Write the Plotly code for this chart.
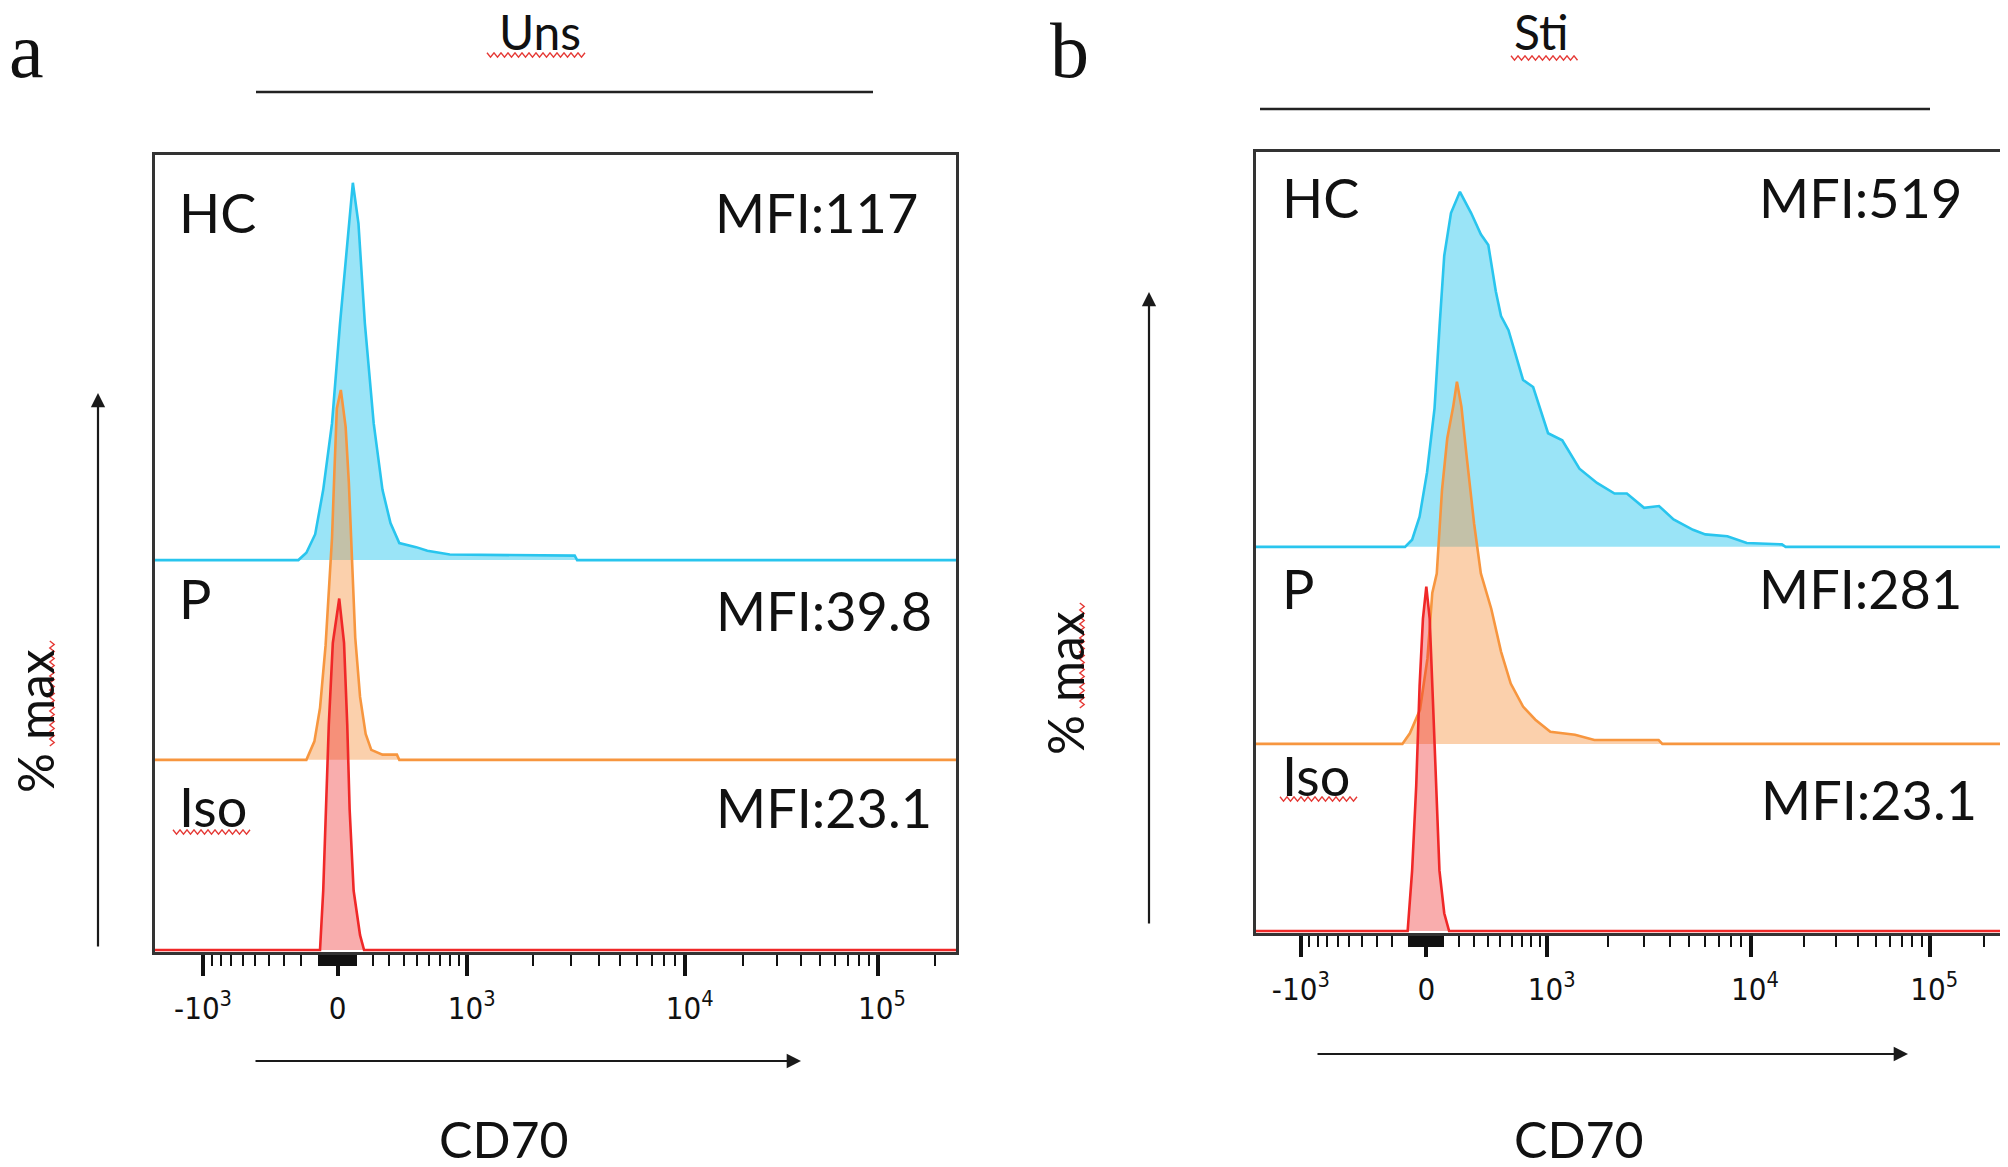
import numpy as np
import plotly.graph_objects as go

# the page body has an 8px margin, so the figure is drawn 8px in from the top-left
PAGE_W, PAGE_H, MARGIN = 2008, 1167, 8
W, H = PAGE_W - MARGIN, PAGE_H - MARGIN

# x = display channel (0-1000 across the plot box), y = % of max
uns_hc_ch = [0, 179, 189, 200, 210, 221, 231, 242, 247, 254, 262, 273, 284, 294, 305, 326, 340, 368, 524, 527, 1000]
uns_hc_pct = [0, 0, 2, 7, 19, 37, 64, 91, 102, 91, 64, 37, 19, 10, 4.6, 3.5, 2.5, 1.5, 1.2, 0, 0]

uns_p_ch = [0, 189, 199, 206, 213, 217, 221, 224, 227, 232, 238, 242, 246, 250, 256, 263, 270, 284, 302, 305, 1000]
uns_p_pct = [0, 0, 5, 14, 31, 45, 60, 78, 95, 100, 90, 75, 52, 33, 17, 7, 2.7, 1.4, 1.4, 0, 0]

uns_iso_ch = [0, 206, 210, 213, 217, 222, 230, 236, 240, 243, 248, 256, 261, 1000]
uns_iso_pct = [0, 0, 16, 38, 61, 83, 95, 83, 61, 38, 16, 4, 0, 0]

sti_hc_ch = [0, 199.5, 209, 219, 229, 239, 246, 252, 261, 273, 288, 301, 311, 321, 328, 338, 357.5, 371,
             391, 410, 433, 456.5, 480, 496.5, 519.5, 539.5, 559, 585, 601.5, 631, 657, 704, 709, 1000]
sti_hc_pct = [0, 0, 2, 8.5, 21, 39, 63, 82, 94, 100, 94, 88, 85, 72, 65, 61, 47, 45,
              32, 30, 22, 18, 15, 15, 11, 11.5, 7.7, 4.8, 3.5, 3, 1.1, 0.7, 0, 0]

sti_p_ch = [0, 196, 206, 219.5, 229.5, 236, 242, 249, 256, 264, 269, 275, 282, 292, 301, 315, 328, 341,
            357.5, 374, 394, 427, 453, 539, 544, 1000]
sti_p_pct = [0, 0, 3, 9.6, 24, 42.5, 48, 71.5, 86, 95, 102, 95, 81, 62, 48, 38, 26, 17,
             10.5, 6.8, 3.4, 2.6, 1.1, 1.1, 0, 0]

sti_iso_ch = [0, 203, 209, 214.5, 219, 223.5, 228, 232.5, 237, 241, 245.6, 252, 258.5, 1000]
sti_iso_pct = [0, 0, 17, 41, 69, 88, 97, 88, 64, 41, 17, 5, 0, 0]

groups = ["HC", "P", "Iso"]
uns_mfi = ["MFI:117", "MFI:39.8", "MFI:23.1"]
sti_mfi = ["MFI:519", "MFI:281", "MFI:23.1"]

major_vals = [-1000, 0, 1000, 10000, 100000]
major_text = ["-10<sup>3</sup>", "0", "&nbsp;10<sup>3</sup>", "&nbsp;10<sup>4</sup>", "&nbsp;10<sup>5</sup>"]


def to_channel(v):
    # biexponential-ish display scale used by the cytometry software
    c = 490.0
    if v >= 1000:
        if v <= 10000:
            return 390 + 272 * np.log10(v / 1000)
        return 662 + 240 * np.log10(v / 10000)
    if v >= 0:
        return 228 + 162 * np.arcsinh(v / c) / np.arcsinh(1000 / c)
    return 228 - 168 * np.arcsinh(-v / c) / np.arcsinh(1000 / c)


minor_vals = ([-m * 100 for m in range(1, 10)] + [-m * 10 for m in range(1, 10)]
              + [m * 10 for m in range(1, 10)] + [m * 100 for m in range(1, 10)]
              + [m * 1000 for m in range(2, 10)] + [m * 10000 for m in range(2, 10)] + [200000])

CYAN = "#29C5EE"
ORANGE = "#F7963F"
RED = "#F02828"
fills = {"HC": "rgba(41,197,238,0.47)", "P": "rgba(247,150,70,0.45)", "Iso": "rgba(240,40,40,0.38)"}
lines = {"HC": CYAN, "P": ORANGE, "Iso": RED}


def px(x, y):
    # page pixel -> paper fraction
    return (x - MARGIN) / W, 1 - (y - MARGIN) / H


fig = go.Figure()

panels = [
    # axis suffix, data, baseline offsets, y range
    ("", {"HC": (uns_hc_ch, uns_hc_pct), "P": (uns_p_ch, uns_p_pct), "Iso": (uns_iso_ch, uns_iso_pct)},
     {"HC": 105.4, "P": 51.4, "Iso": 0}, [-0.54, 214.9]),
    ("2", {"HC": (sti_hc_ch, sti_hc_pct), "P": (sti_p_ch, sti_p_pct), "Iso": (sti_iso_ch, sti_iso_pct)},
     {"HC": 108.2, "P": 52.7, "Iso": 0}, [-0.56, 219.4]),
]

for suffix, data, offs, yr in panels:
    for g in groups:
        xs, ys = data[g]
        fig.add_trace(go.Scatter(
            x=xs, y=[offs[g] + v for v in ys], mode="lines", fill="toself",
            fillcolor=fills[g], line=dict(color=lines[g], width=2.6),
            xaxis="x" + suffix, yaxis="y" + suffix, hoverinfo="skip", showlegend=False))

xa = dict(range=[0, 1000], showgrid=False, zeroline=False, showline=True, mirror=True,
          linecolor="#333", linewidth=2.5, ticks="outside", ticklen=21, tickwidth=4, tickcolor="#111",
          tickmode="array", tickvals=[to_channel(v) for v in major_vals], ticktext=major_text,
          tickfont=dict(family="Liberation Sans Narrow, DejaVu Sans Condensed, Liberation Sans", size=31, color="#111"),
          ticklabelstandoff=6,
          minor=dict(tickmode="array", tickvals=[to_channel(v) for v in minor_vals], ticks="outside",
                     ticklen=11, tickwidth=2, tickcolor="#111"))
ya = dict(showgrid=False, zeroline=False, showline=True, mirror=True, linecolor="#333", linewidth=2.5,
          showticklabels=False, ticks="")

ax0, ay1 = px(155, 155)
ax1, ay0 = px(956, 952)
bx0, by1 = px(1256, 152)
bx1, by0 = px(2003, 933)

fig.update_layout(
    width=W, height=H, margin=dict(l=0, r=0, t=0, b=0),
    paper_bgcolor="white", plot_bgcolor="white", showlegend=False,
    xaxis=dict(xa, domain=[ax0, ax1], anchor="y"),
    yaxis=dict(ya, domain=[ay0, ay1], range=panels[0][3], anchor="x"),
    xaxis2=dict(xa, domain=[bx0, bx1], anchor="y2"),
    yaxis2=dict(ya, domain=[by0, by1], range=panels[1][3], anchor="x2"),
)

TXT = "Lato, Open Sans, sans-serif"
ann = []


def text(x, y, s, size=54, xanchor="left", angle=0, family=TXT):
    xx, yy = px(x, y)
    ann.append(dict(x=xx, y=yy, xref="paper", yref="paper", text=s, showarrow=False,
                    xanchor=xanchor, yanchor="middle", textangle=angle,
                    font=dict(family=family, size=size, color="#111")))


# panel letters and titles
text(26, 50, "a", size=78, xanchor="center", family="Liberation Serif, serif")
text(1069, 50, "b", size=78, xanchor="center", family="Liberation Serif, serif")
text(540, 32, "Uns", size=48, xanchor="center")
text(1541, 32, "Sti", size=48, xanchor="center")
text(503, 1139, "CD70", size=50, xanchor="center")
text(1578, 1139, "CD70", size=50, xanchor="center")
text(35, 721, "% max", size=50, xanchor="center", angle=-90)
text(1065, 683, "% max", size=50, xanchor="center", angle=-90)

# group labels and MFI values
for g, y in zip(groups, [213, 598, 806]):
    text(177, y, g, size=54)
for m, y in zip(uns_mfi, [213, 610, 807]):
    text(934 if m != "MFI:117" else 920, y, m, size=54, xanchor="right")
for g, y in zip(groups, [198, 588, 775]):
    text(1280, y, g, size=54)
for m, y in zip(sti_mfi, [198, 588, 799]):
    text(1979 if m == "MFI:23.1" else 1964, y, m, size=54, xanchor="right")

# axis arrows
for tip, d in [((98, 393), (0, 555)), ((801, 1061), (-547, 0)),
               ((1149, 292), (0, 633)), ((1908, 1054), (-592, 0))]:
    xx, yy = px(*tip)
    ann.append(dict(x=xx, y=yy, xref="paper", yref="paper", ax=d[0], ay=d[1], text="",
                    showarrow=True, arrowhead=2, arrowsize=1.3, arrowwidth=2.2, arrowcolor="#1a1a1a"))

fig.update_layout(annotations=ann)

shapes = []
for x0, x1, y in [(256, 873, 92), (1260, 1930, 109)]:
    a0, b0 = px(x0, y)
    a1, b1 = px(x1, y)
    shapes.append(dict(type="line", xref="paper", yref="paper", x0=a0, y0=b0, x1=a1, y1=b1,
                       line=dict(color="#222", width=2.6)))


def wavy(x0, x1, y, vertical=False, amp=2.2, step=3.5):
    # spell-check style squiggle
    n = int(abs(x1 - x0) / step)
    pts = []
    for i in range(n + 1):
        t = x0 + i * step
        o = amp if i % 2 else -amp
        pts.append(px(y + o, t) if vertical else px(t, y + o))
    return "M " + " L ".join(f"{p[0]:.5f},{p[1]:.5f}" for p in pts)


for x0, x1, y, v in [(487, 587, 55, False), (1511, 1578, 58, False),
                     (173, 252, 832, False), (1280, 1358, 799, False),
                     (641, 748, 52, True), (603, 710, 1082, True)]:
    shapes.append(dict(type="path", xref="paper", yref="paper", path=wavy(x0, x1, y, v),
                       line=dict(color="#E53935", width=1.4)))

fig.update_layout(shapes=shapes)

fig.write_html("out.html")
